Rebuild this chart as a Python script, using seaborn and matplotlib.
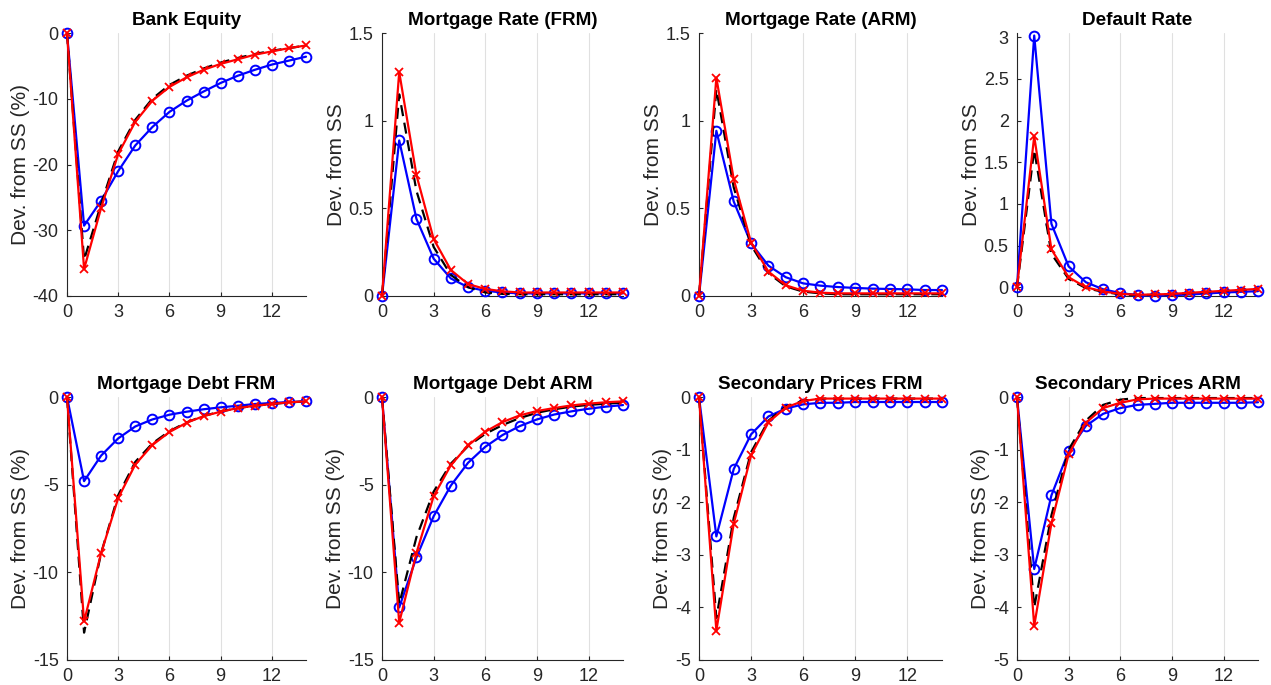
import numpy as np
import pandas as pd
import matplotlib
matplotlib.use("Agg")
import matplotlib.pyplot as plt
import seaborn as sns
from matplotlib.ticker import FuncFormatter

sns.set_style("ticks")
plt.rcParams['font.family'] = ['Liberation Sans', 'DejaVu Sans']
plt.rcParams['axes.unicode_minus'] = False

periods = list(range(15))

titles = ["Bank Equity", "Mortgage Rate (FRM)", "Mortgage Rate (ARM)", "Default Rate",
          "Mortgage Debt FRM", "Mortgage Debt ARM", "Secondary Prices FRM", "Secondary Prices ARM"]
ylabels = ["Dev. from SS (%)", "Dev. from SS", "Dev. from SS", "Dev. from SS",
           "Dev. from SS (%)", "Dev. from SS (%)", "Dev. from SS (%)", "Dev. from SS (%)"]

# Blue (circles)
bank_equity_blue = [0, -29.3, -25.5, -21.0, -17.1, -14.3, -12.0, -10.3, -8.9, -7.6, -6.5, -5.6, -4.8, -4.2, -3.6]
rate_frm_blue = [0, 0.887, 0.44, 0.213, 0.10, 0.05, 0.03, 0.02, 0.015, 0.015, 0.015, 0.015, 0.015, 0.015, 0.015]
rate_arm_blue = [0, 0.942, 0.539, 0.30, 0.173, 0.107, 0.072, 0.059, 0.051, 0.046, 0.042, 0.040, 0.038, 0.034, 0.034]
default_blue = [0, 3.02, 0.76, 0.25, 0.06, -0.024, -0.07, -0.095, -0.10, -0.095, -0.087, -0.075, -0.063, -0.055, -0.047]
debt_frm_blue = [0, -4.8, -3.34, -2.36, -1.68, -1.28, -1.01, -0.84, -0.70, -0.59, -0.50, -0.40, -0.34, -0.29, -0.25]
debt_arm_blue = [0, -12.0, -9.15, -6.8, -5.05, -3.75, -2.84, -2.17, -1.66, -1.28, -1.0, -0.82, -0.67, -0.55, -0.46]
sec_frm_blue = [0, -2.65, -1.37, -0.71, -0.37, -0.22, -0.14, -0.11, -0.11, -0.095, -0.095, -0.095, -0.095, -0.095, -0.095]
sec_arm_blue = [0, -3.27, -1.87, -1.03, -0.55, -0.32, -0.21, -0.15, -0.13, -0.11, -0.11, -0.11, -0.11, -0.11, -0.10]

# Red (crosses)
bank_equity_red = [0, -35.9, -26.6, -18.4, -13.5, -10.3, -8.2, -6.75, -5.6, -4.7, -4.0, -3.3, -2.8, -2.3, -1.9]
rate_frm_red = [0, 1.277, 0.69, 0.325, 0.148, 0.068, 0.04, 0.027, 0.02, 0.02, 0.02, 0.02, 0.02, 0.02, 0.02]
rate_arm_red = [0, 1.245, 0.666, 0.305, 0.139, 0.061, 0.03, 0.019, 0.015, 0.015, 0.015, 0.015, 0.015, 0.015, 0.015]
default_red = [0, 1.81, 0.454, 0.12, 0.0, -0.05, -0.08, -0.09, -0.087, -0.08, -0.067, -0.055, -0.043, -0.032, -0.02]
debt_frm_red = [0, -12.8, -8.9, -5.76, -3.85, -2.74, -2.0, -1.47, -1.09, -0.84, -0.63, -0.50, -0.40, -0.30, -0.25]
debt_arm_red = [0, -12.87, -8.9, -5.66, -3.89, -2.76, -1.98, -1.43, -1.05, -0.80, -0.63, -0.48, -0.38, -0.30, -0.25]
sec_frm_red = [0, -4.44, -2.41, -1.11, -0.48, -0.20, -0.076, -0.03, -0.03, -0.03, -0.03, -0.03, -0.03, -0.03, -0.03]
sec_arm_red = [0, -4.35, -2.40, -1.09, -0.49, -0.21, -0.11, -0.045, -0.03, -0.03, -0.03, -0.03, -0.03, -0.03, -0.03]

# Black dashed
bank_equity_black = [0, -34.5, -26.0, -18.0, -13.2, -10.0, -7.9, -6.5, -5.4, -4.5, -3.8, -3.2, -2.7, -2.3, -1.9]
rate_frm_black = [0, 1.15, 0.60, 0.28, 0.12, 0.05, 0.02, 0.012, 0.01, 0.01, 0.01, 0.01, 0.01, 0.01, 0.01]
rate_arm_black = [0, 1.18, 0.62, 0.29, 0.13, 0.055, 0.025, 0.015, 0.01, 0.01, 0.01, 0.01, 0.01, 0.01, 0.01]
default_black = [0, 1.65, 0.40, 0.10, -0.01, -0.055, -0.085, -0.095, -0.09, -0.083, -0.07, -0.058, -0.046, -0.035, -0.024]
debt_frm_black = [0, -13.44, -8.9, -5.6, -3.7, -2.65, -1.95, -1.45, -1.08, -0.83, -0.63, -0.50, -0.40, -0.31, -0.25]
debt_arm_black = [0, -11.8, -8.0, -5.4, -3.8, -2.8, -2.1, -1.6, -1.2, -0.9, -0.7, -0.55, -0.45, -0.38, -0.32]
sec_frm_black = [0, -4.2, -2.3, -1.05, -0.45, -0.18, -0.07, -0.03, -0.03, -0.03, -0.03, -0.03, -0.03, -0.03, -0.03]
sec_arm_black = [0, -4.0, -2.25, -1.0, -0.45, -0.15, -0.05, -0.02, -0.02, -0.02, -0.02, -0.02, -0.02, -0.02, -0.02]

blue = [bank_equity_blue, rate_frm_blue, rate_arm_blue, default_blue,
        debt_frm_blue, debt_arm_blue, sec_frm_blue, sec_arm_blue]
red = [bank_equity_red, rate_frm_red, rate_arm_red, default_red,
       debt_frm_red, debt_arm_red, sec_frm_red, sec_arm_red]
black = [bank_equity_black, rate_frm_black, rate_arm_black, default_black,
         debt_frm_black, debt_arm_black, sec_frm_black, sec_arm_black]

ylims = [(-40, 0), (0, 1.5), (0, 1.5), (-0.105, 3.05),
         (-15, 0), (-15, 0), (-5, 0), (-5, 0)]
yticks = [[-40, -30, -20, -10, 0], [0, 0.5, 1, 1.5], [0, 0.5, 1, 1.5], [0, 0.5, 1, 1.5, 2, 2.5, 3],
          [-15, -10, -5, 0], [-15, -10, -5, 0], [-5, -4, -3, -2, -1, 0], [-5, -4, -3, -2, -1, 0]]
xticks = [0, 3, 6, 9, 12]

fig = plt.figure(figsize=(12.71, 6.85), dpi=100)
lefts = [67, 382, 699, 1017]
widths = [239, 241, 243, 241]
tops = [33, 397]
height = 263
W, H = 1271, 685

fmt = FuncFormatter(lambda v, p: "%g" % v)
dark = (0.15, 0.15, 0.15)

for i in range(8):
    r, c = divmod(i, 4)
    ax = fig.add_axes([lefts[c] / W, 1 - (tops[r] + height) / H, widths[c] / W, height / H])
    ax.grid(axis='x', color=(0.88, 0.88, 0.88), linewidth=0.8)
    ax.set_axisbelow(True)
    sns.lineplot(x=periods, y=blue[i], ax=ax, color='blue', linewidth=1.6, marker='o',
                 markersize=7, markerfacecolor='none', markeredgecolor='blue', markeredgewidth=1.4,
                 clip_on=False, zorder=3)
    sns.lineplot(x=periods, y=black[i], ax=ax, color='black', linewidth=1.6, linestyle=(0, (5, 3)),
                 clip_on=False, zorder=3)
    sns.lineplot(x=periods, y=red[i], ax=ax, color='red', linewidth=1.6, marker='x',
                 markersize=6, markeredgecolor='red', markeredgewidth=1.3, clip_on=False, zorder=3)
    ax.set_xlim(0, 14)
    ax.set_ylim(*ylims[i])
    ax.set_xticks(xticks)
    ax.set_yticks(yticks[i])
    ax.yaxis.set_major_formatter(fmt)
    ax.set_title(titles[i], fontsize=13.6, fontweight='bold', pad=6, color='black')
    ax.set_ylabel(ylabels[i], fontsize=15, color=dark, labelpad=2)
    ax.set_xlabel("")
    for s in ['top', 'right']:
        ax.spines[s].set_visible(False)
    for s in ['left', 'bottom']:
        ax.spines[s].set_color(dark)
        ax.spines[s].set_linewidth(0.8)
    ax.tick_params(direction='in', length=3, width=0.8, colors=dark, labelsize=13, pad=6)

fig.savefig("out.png", dpi=100)
